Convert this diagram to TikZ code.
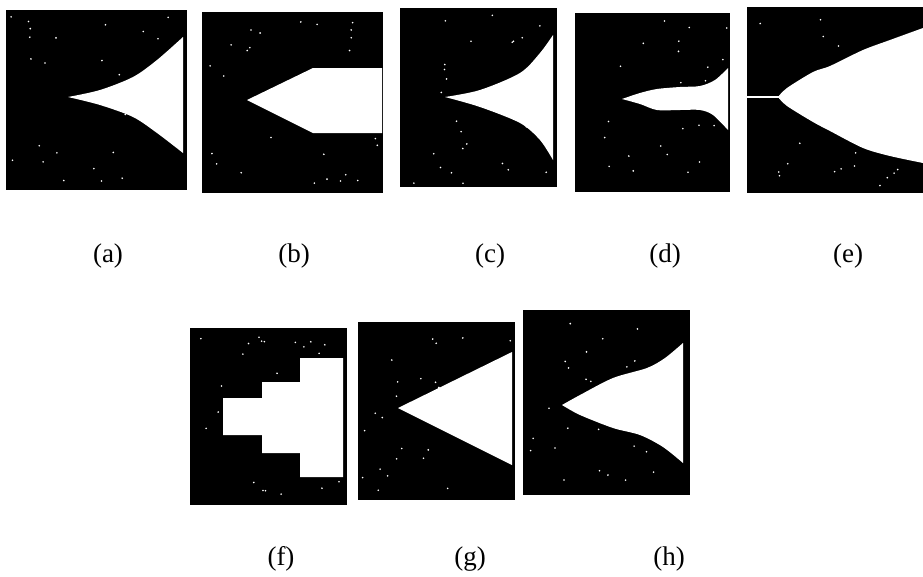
\documentclass[tikz,border=0pt]{standalone}
\usepackage{fontspec}
\setmainfont{Liberation Serif}
\begin{document}
\begin{tikzpicture}[x=1pt,y=-1pt,
  panel/.style={fill=black},
  hole/.style={fill=white},
  lbl/.style={font=\fontsize{27}{32}\selectfont, inner sep=0pt}]
\useasboundingbox[fill=white] (0,0) rectangle (923,576);
\pgfmathsetseed{17}
\newcommand{\specks}[4]{%
  \foreach \k in {1,...,26}{%
    \pgfmathsetmacro{\sx}{#1+(#3-#1)*(0.02+0.96*rnd)}%
    \pgfmathsetmacro{\sy}{#2+(#4-#2)*(0.02+0.96*rnd)}%
    \fill[white] (\sx,\sy) circle (0.9);
  }}
% (a)
\fill[panel] (6,10) rectangle (187,190);
\specks{6}{10}{187}{190}
\fill[hole] plot[smooth] coordinates {(68,97) (100,90) (133,77) (157,60) (183,37)}
  -- (183,153) -- plot[smooth] coordinates {(183,153) (157,133) (133,117) (100,105) (68,97)} -- cycle;
% (b)
\fill[panel] (202,12) rectangle (383,193);
\specks{202}{12}{383}{193}
\fill[hole] (247,100) -- (313,68) -- (382,68) -- (382,133) -- (313,133) -- cycle;
% (c)
\fill[panel] (400,8) rectangle (557,187);
\specks{400}{8}{557}{187}
\fill[hole] plot[smooth] coordinates {(445,97) (480,90) (520,73) (540,53) (553,35)}
  -- (553,160) -- plot[smooth] coordinates {(553,160) (540,140) (520,123) (480,107) (445,97)} -- cycle;
% (d)
\fill[panel] (575,13) rectangle (730,192);
\specks{575}{13}{730}{192}
\fill[hole] plot[smooth] coordinates {(622,99) (640,93) (657,89) (680,87) (700,86) (715,80) (728,68)}
  -- (728,130) -- plot[smooth] coordinates {(728,130) (713,115) (700,110) (680,110) (657,110) (640,104) (622,99)} -- cycle;
% (e)
\fill[panel] (747,7) rectangle (923,193);
\specks{747}{7}{923}{193}
\fill[hole] (747,96.2) rectangle (780,97.8);
\fill[hole] plot[smooth] coordinates {(778,97) (787,88) (813,72) (830,66) (863,50) (890,40) (923,28)}
  -- (923,163) -- plot[smooth] coordinates {(923,163) (890,156) (863,148) (830,131) (813,122) (787,106) (778,97)} -- cycle;
% (f)
\fill[panel] (190,328) rectangle (347,505);
\specks{190}{328}{347}{505}
\fill[hole] (223,398) -- (262,398) -- (262,382) -- (300,382) -- (300,358) -- (343,358)
  -- (343,477) -- (300,477) -- (300,453) -- (262,453) -- (262,435) -- (223,435) -- cycle;
% (g)
\fill[panel] (358,322) rectangle (515,500);
\specks{358}{322}{515}{500}
\fill[hole] (398,408) -- (512,352) -- (512,465) -- cycle;
% (h)
\fill[panel] (523,310) rectangle (690,495);
\specks{523}{310}{690}{495}
\fill[hole] plot[smooth] coordinates {(562,405) (580,395) (613,378) (647,368) (665,358) (683,343)}
  -- (683,463) -- plot[smooth] coordinates {(683,463) (663,447) (640,435) (613,428) (580,415) (562,405)} -- cycle;
% labels
\node[lbl] (la) at (108,256) {(a)};
\node[lbl] (lb) at (294,256) {(b)};
\node[lbl] (lc) at (490,256) {(c)};
\node[lbl] (ld) at (665,256) {(d)};
\node[lbl] (le) at (848,256) {(e)};
\node[lbl] (lf) at (281,559) {(f)};
\node[lbl] (lg) at (470,559) {(g)};
\node[lbl] (lh) at (669,559) {(h)};
\end{tikzpicture}
\end{document}
